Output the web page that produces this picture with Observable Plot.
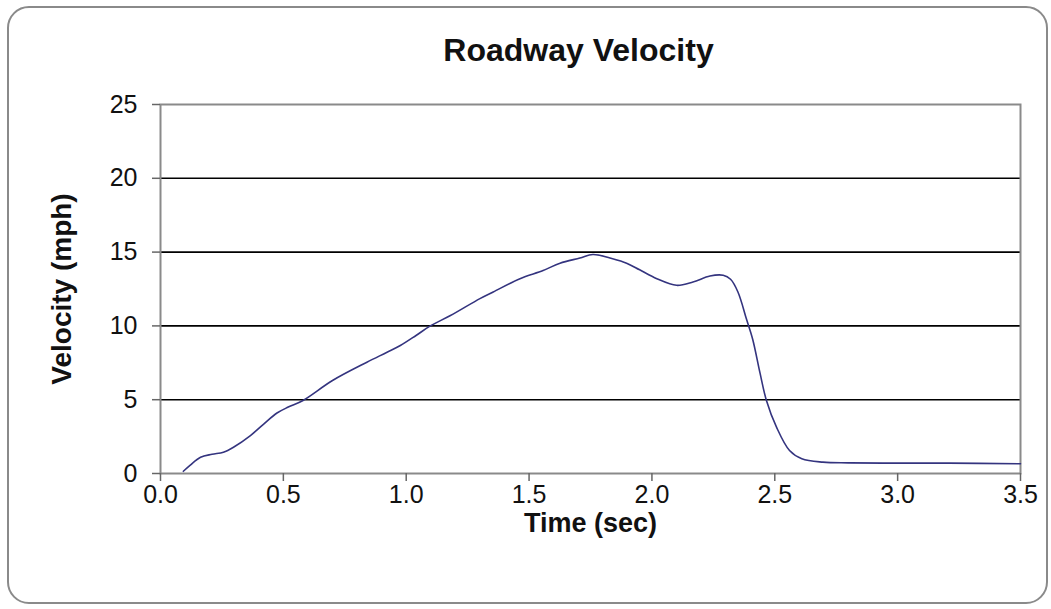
<!DOCTYPE html>
<html>
<head>
<meta charset="utf-8">
<script src="https://cdn.jsdelivr.net/npm/d3@7"></script>
<script src="https://cdn.jsdelivr.net/npm/@observablehq/plot@0.6"></script>
<style>
  html, body { margin: 0; padding: 0; background: #fff; }
  #wrap { position: relative; width: 1051px; height: 609px; overflow: hidden; font-family: "Liberation Sans", Arial, sans-serif; }
  #border { position: absolute; left: 7px; top: 6px; width: 1041px; height: 598px; border: 2px solid #8a8a8a; border-radius: 22px; box-sizing: border-box; }
  #chart { position: absolute; left: 0; top: 0; }
</style>
</head>
<body>
<div id="wrap">
  <div id="border"></div>
  <div id="chart"></div>
</div>
<script>
const title = "Roadway Velocity";
const xLabel = "Time (sec)";
const yLabel = "Velocity (mph)";
const xTicks = [0, 0.5, 1.0, 1.5, 2.0, 2.5, 3.0, 3.5];
const yTicks = [0, 5, 10, 15, 20, 25];
const gridValues = [5, 10, 15, 20];

const time = [0.093, 0.12, 0.163, 0.21, 0.256, 0.297, 0.366, 0.42, 0.474, 0.52, 0.58, 0.70, 0.84, 0.92, 0.976, 1.04, 1.098, 1.18, 1.30, 1.354, 1.463, 1.557, 1.626, 1.707, 1.76, 1.84, 1.897, 1.95, 2.02, 2.10, 2.167, 2.236, 2.29, 2.32, 2.35, 2.385, 2.41, 2.44, 2.466, 2.507, 2.56, 2.61, 2.696, 2.80, 2.94, 3.21, 3.50];
const velocity = [0.15, 0.55, 1.1, 1.3, 1.44, 1.78, 2.57, 3.35, 4.1, 4.5, 4.95, 6.3, 7.54, 8.2, 8.67, 9.35, 10.0, 10.7, 11.85, 12.3, 13.2, 13.75, 14.25, 14.6, 14.84, 14.55, 14.25, 13.8, 13.2, 12.75, 12.97, 13.38, 13.43, 13.16, 12.3, 10.45, 9.1, 6.8, 4.95, 3.14, 1.56, 1.0, 0.77, 0.72, 0.70, 0.70, 0.66];

const data = time.map((t, i) => ({t, v: velocity[i]}));

const chart = Plot.plot({
  width: 1051,
  height: 609,
  marginLeft: 160,
  marginRight: 31,
  marginTop: 104,
  marginBottom: 136,
  style: {fontFamily: "'Liberation Sans', Arial, sans-serif", color: "#111", background: "transparent"},
  x: {domain: [0, 3.5]},
  y: {domain: [0, 25]},
  marks: [
    Plot.ruleY(gridValues, {stroke: "#000", strokeWidth: 1.6}),
    Plot.frame({stroke: "#8a8a8a", strokeWidth: 2}),
    Plot.axisX({ticks: xTicks, tickFormat: d3.format(".1f"), tickSize: 8, tickPadding: 4, stroke: "#666", strokeWidth: 1.5,
      label: null, fontSize: 25}),
    Plot.axisY({ticks: yTicks, tickSize: 8, tickPadding: 15, stroke: "#666", strokeWidth: 1.5,
      label: null, fontSize: 25}),
    Plot.text([title], {frameAnchor: "top", dx: -12, dy: -54, lineAnchor: "middle", fontWeight: "bold", fontSize: 32, fill: "#111"}),
    Plot.text([xLabel], {frameAnchor: "bottom", dy: 50, lineAnchor: "middle", fontWeight: "bold", fontSize: 27, fill: "#111"}),
    Plot.text([yLabel], {frameAnchor: "left", dx: -98, textAnchor: "middle", lineAnchor: "middle", rotate: -90, fontWeight: "bold", fontSize: 28, fill: "#111"}),
    Plot.line(data, {x: "t", y: "v", stroke: "#34347f", strokeWidth: 1.6, curve: "catmull-rom"})
  ]
});
document.getElementById("chart").appendChild(chart);
</script>
</body>
</html>
